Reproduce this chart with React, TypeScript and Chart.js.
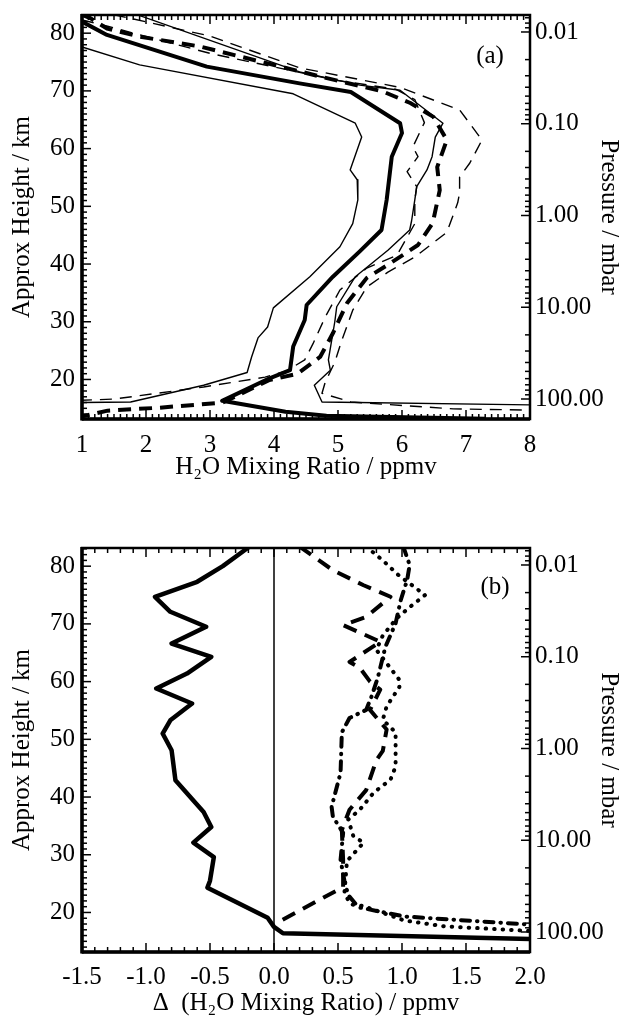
import React, { useEffect, useRef } from "react";
import { Chart, registerables } from "chart.js";

Chart.register(...registerables);

const FONT = "'Liberation Serif', 'Times New Roman', serif";

// ---------- shared vertical axis ----------
const KM_MIN = 13.15;
const KM_MAX = 83.15;
const P_TOP = 0.00653; // mbar at top of frame
const P_BOTTOM = 165.2; // mbar at bottom of frame
const kmTicks = [20, 30, 40, 50, 60, 70, 80];
const pressureTicks = [0.01, 0.1, 1, 10, 100];

// ---------- panel (a): [H2O ppmv, km] ----------
const aXTicks = [1, 2, 3, 4, 5, 6, 7, 8];
const aThickSolid: number[][] = [
  [1.0, 82.0], [1.39, 79.7], [2.95, 74.2], [4.4, 71.3], [5.2, 69.8], [5.97, 64.4],
  [6.0, 62.7], [5.84, 58.6], [5.76, 51.1], [5.68, 45.9], [5.34, 42.2], [4.92, 37.8],
  [4.51, 32.9], [4.48, 30.3], [4.3, 25.7], [4.25, 21.6], [3.93, 20.2], [3.19, 16.3],
  [4.18, 14.4], [4.82, 13.7], [7.3, 13.2],
];
const aThinSolidLeft: number[][] = [
  [1.0, 77.6], [1.9, 74.5], [4.3, 69.5], [5.27, 64.4], [5.37, 62.0], [5.19, 56.3],
  [5.3, 54.6], [5.31, 51.1], [5.23, 47.0], [5.03, 43.0], [4.56, 37.8], [3.99, 32.4],
  [3.9, 29.1], [3.75, 27.2], [3.65, 23.9], [3.58, 21.2], [2.9, 19.0], [1.76, 16.1],
  [1.0, 16.0],
];
const aThinSolidRight: number[][] = [
  [1.86, 83.2], [4.4, 73.3], [5.34, 71.0], [5.97, 70.1], [6.64, 64.4], [6.52, 62.0],
  [6.47, 58.6], [6.39, 56.3], [6.23, 53.4], [6.2, 51.1], [6.15, 47.5], [6.12, 45.9],
  [5.78, 42.4], [5.27, 37.8], [4.98, 32.6], [4.95, 30.0], [4.85, 23.4], [4.88, 21.6],
  [4.63, 19.0], [4.75, 16.1], [8.0, 15.6],
];
const aThickDashed: number[][] = [
  [1.0, 83.2], [1.13, 82.6], [1.39, 80.8], [1.9, 79.4], [2.84, 77.7], [3.78, 75.1],
  [4.72, 72.5], [5.7, 69.9], [6.13, 67.9], [6.49, 65.5], [6.7, 61.5], [6.55, 56.8],
  [6.59, 52.8], [6.48, 47.1], [6.25, 43.3], [5.84, 40.3], [5.45, 37.6], [5.14, 33.2],
  [4.92, 28.0], [4.72, 23.9], [4.37, 21.0], [3.93, 19.9], [3.2, 16.0], [2.2, 15.1],
  [1.4, 14.6], [1.0, 13.6],
];
const aThinDashedInner: number[][] = [
  [1.0, 82.3], [1.4, 81.2], [3.0, 76.5], [5.0, 71.8], [5.9, 70.3], [6.2, 68.5],
  [6.35, 64.5], [6.17, 60.3], [6.25, 58.6], [6.08, 56.0], [6.23, 53.4], [6.2, 51.1],
  [6.2, 47.0], [5.92, 41.5], [5.45, 39.3], [5.03, 35.5], [4.8, 30.8], [4.61, 26.2],
  [4.48, 23.4], [4.2, 21.5], [3.86, 20.4], [2.9, 18.7], [1.5, 16.6], [1.0, 16.4],
];
const aThinDashedOuter: number[][] = [
  [1.5, 83.2], [3.0, 79.5], [4.4, 74.0], [5.97, 70.6], [6.9, 66.7], [7.25, 61.5],
  [7.06, 57.5], [6.9, 55.1], [6.9, 52.3], [6.87, 50.6], [6.7, 45.5], [6.2, 41.2],
  [5.78, 38.6], [5.45, 36.0], [5.23, 32.0], [5.06, 26.8], [4.95, 23.0], [4.8, 19.5],
  [4.75, 17.6], [5.2, 16.1], [6.8, 14.9], [8.0, 14.7],
];

// ---------- panel (b): [delta ppmv, km] ----------
const bXTicks = [-1.5, -1.0, -0.5, 0.0, 0.5, 1.0, 1.5, 2.0];
const bZeroLine: number[][] = [[0, KM_MIN], [0, KM_MAX]];
const bThickSolid: number[][] = [
  [-0.19, 83.4], [-0.40, 80.0], [-0.60, 77.3], [-0.93, 74.7], [-0.81, 72.1], [-0.53, 69.5],
  [-0.80, 66.6], [-0.49, 64.3], [-0.68, 61.4], [-0.92, 58.8], [-0.64, 56.2], [-0.81, 53.3],
  [-0.87, 51.0], [-0.80, 48.1], [-0.77, 42.9], [-0.63, 39.4], [-0.55, 37.4], [-0.49, 34.8],
  [-0.63, 32.1], [-0.47, 29.6], [-0.50, 25.5], [-0.52, 24.3], [-0.05, 19.1], [0.0, 17.5],
  [0.07, 16.4], [2.0, 15.4],
];
const bDashed: number[][] = [
  [0.20, 83.4], [0.46, 79.3], [0.70, 76.7], [0.91, 74.7], [0.72, 71.2], [0.54, 69.8],
  [0.83, 66.9], [0.59, 63.4], [0.67, 62.4], [0.75, 60.0], [0.83, 58.6], [0.75, 55.1],
  [0.88, 51.7], [0.85, 48.0], [0.80, 46.4], [0.72, 41.2], [0.59, 37.8], [0.53, 34.3],
  [0.54, 29.1], [0.54, 24.4], [0.03, 18.3],
];
const bDotted: number[][] = [
  [0.72, 83.4], [0.85, 81.0], [0.97, 78.5], [1.18, 75.0], [1.06, 72.9], [0.96, 71.0],
  [0.85, 68.0], [0.80, 65.5], [0.88, 63.2], [0.98, 60.3], [0.98, 59.1], [0.88, 55.7],
  [0.85, 53.4], [0.95, 51.2], [0.95, 45.3], [0.91, 43.0], [0.78, 40.8], [0.67, 37.8],
  [0.58, 36.1], [0.62, 33.2], [0.70, 32.1], [0.57, 28.9], [0.55, 23.3], [0.60, 21.4],
  [0.70, 21.1], [1.02, 18.6], [1.33, 17.6], [2.0, 16.8],
];
const bDashDot: number[][] = [
  [1.01, 83.4], [1.06, 80.2], [1.04, 77.6], [0.99, 74.1], [0.95, 70.1], [0.87, 66.0],
  [0.81, 60.6], [0.76, 57.3], [0.72, 55.1], [0.59, 53.7], [0.53, 51.2], [0.52, 44.2],
  [0.45, 38.3], [0.46, 36.6], [0.54, 33.8], [0.52, 29.1], [0.55, 25.5], [0.58, 23.0],
  [0.66, 20.9], [1.02, 19.3], [2.0, 17.9],
];

function ds(pts: number[][], width: number, dash: number[] = [], cap: string = "butt") {
  return {
    data: pts.map(([x, y]) => ({ x, y })),
    borderColor: "#000",
    backgroundColor: "#000",
    borderWidth: width,
    borderDash: dash,
    borderCapStyle: cap,
    borderJoinStyle: "round",
    pointRadius: 0,
    pointHoverRadius: 0,
    fill: false,
    tension: 0,
  };
}

const axisDecor = {
  id: "axisDecor",
  afterDatasetsDraw(chart: any, _args: any, opts: any) {
    const { ctx, chartArea } = chart;
    const { left, right, top, bottom } = chartArea;
    const x = chart.scales.x;
    const y = chart.scales.y;
    const y2 = chart.scales.y2;
    ctx.save();
    ctx.strokeStyle = "#000";
    ctx.lineWidth = 1.5;
    const seg = (x1: number, y1: number, x2: number, y2_: number) => {
      ctx.beginPath();
      ctx.moveTo(x1, y1);
      ctx.lineTo(x2, y2_);
      ctx.stroke();
    };
    // left km ticks (inward)
    for (let k = Math.ceil(KM_MIN); k <= KM_MAX; k++) {
      const py = y.getPixelForValue(k);
      seg(left, py, left + (k % 10 === 0 ? 9 : 5), py);
    }
    // right pressure ticks (inward)
    for (let e = -3; e <= 2; e++) {
      for (let m = 1; m <= 9; m++) {
        const p = m * Math.pow(10, e);
        if (p < P_TOP || p > P_BOTTOM) continue;
        const py = y2.getPixelForValue(p);
        seg(right - (m === 1 ? 9 : 5), py, right, py);
      }
    }
    // top/bottom x ticks
    const n = Math.round((opts.max - opts.min) / opts.minor);
    for (let i = 0; i <= n; i++) {
      const v = opts.min + i * opts.minor;
      const px = x.getPixelForValue(v);
      const r = v / opts.major;
      const len = Math.abs(r - Math.round(r)) < 1e-6 ? 9 : 5;
      seg(px, top, px, top + len);
      seg(px, bottom, px, bottom - len);
    }
    // frame
    ctx.lineWidth = 2.5;
    ctx.strokeRect(left, top, right - left, bottom - top);
    ctx.lineWidth = 3.5;
    seg(left, top - 1, left, bottom + 1.5);
    seg(left, bottom, right, bottom);
    // panel label
    ctx.fillStyle = "#000";
    ctx.font = `25px ${FONT}`;
    ctx.textAlign = "center";
    ctx.textBaseline = "middle";
    ctx.fillText(opts.label, opts.labelX, opts.labelY);
    ctx.restore();
  },
};

function zeroPad(s: any) {
  s.paddingTop = 0;
  s.paddingBottom = 0;
  s.paddingLeft = 0;
  s.paddingRight = 0;
}

function buildConfig(p: any) {
  const tickFont = { family: FONT, size: 25 };
  const titleFont = { family: FONT, size: 25, lineHeight: 1 };
  return {
    type: "line",
    data: { datasets: p.datasets },
    plugins: [axisDecor],
    options: {
      responsive: false,
      animation: false,
      events: [],
      layout: { padding: { top: p.padTop, left: 0, right: 0, bottom: 0 } },
      plugins: {
        legend: { display: false },
        tooltip: { enabled: false },
        axisDecor: {
          min: p.xMin, max: p.xMax, minor: p.xMinor, major: p.xMajor,
          label: p.label, labelX: p.labelX, labelY: p.labelY,
        },
      },
      scales: {
        x: {
          type: "linear",
          position: "bottom",
          min: p.xMin,
          max: p.xMax,
          bounds: "data",
          grid: { display: false, drawTicks: false },
          border: { display: false },
          ticks: {
            font: tickFont, color: "#000", padding: p.xTickPad, autoSkip: false,
            maxRotation: 0, minRotation: 0,
            callback: (v: any) => p.xFmt(Number(v)),
          },
          afterBuildTicks: (s: any) => { s.ticks = p.xTicks.map((v: number) => ({ value: v })); },
          afterFit: (s: any) => { s.height = p.xAxisHeight; zeroPad(s); },
          title: {
            display: true, text: p.xTitle, font: titleFont, color: "#000",
            padding: { top: 0, bottom: p.xTitlePad },
          },
        },
        y: {
          type: "linear",
          position: "left",
          min: KM_MIN,
          max: KM_MAX,
          bounds: "data",
          grid: { display: false, drawTicks: false },
          border: { display: false },
          ticks: {
            font: tickFont, color: "#000", padding: 7, autoSkip: false,
            callback: (v: any) => String(Math.round(Number(v))),
          },
          afterBuildTicks: (s: any) => { s.ticks = kmTicks.map((v) => ({ value: v })); },
          afterFit: (s: any) => { s.width = 82; zeroPad(s); },
          title: {
            display: true, text: "Approx Height / km", font: titleFont, color: "#000",
            padding: { top: 10, bottom: 0 },
          },
        },
        y2: {
          type: "logarithmic",
          position: "right",
          reverse: true,
          min: P_TOP,
          max: P_BOTTOM,
          bounds: "data",
          grid: { display: false, drawTicks: false },
          border: { display: false },
          ticks: {
            font: tickFont, color: "#000", padding: 5, autoSkip: false,
            callback: (v: any) => Number(v).toFixed(2),
          },
          afterBuildTicks: (s: any) => { s.ticks = pressureTicks.map((v) => ({ value: v })); },
          afterFit: (s: any) => { s.width = 106; zeroPad(s); },
          title: {
            display: true, text: "Pressure / mbar", font: titleFont, color: "#000",
            padding: { top: 15, bottom: 0 },
          },
        },
      },
    },
  };
}

export default function App() {
  const topRef = useRef<HTMLCanvasElement>(null);
  const botRef = useRef<HTMLCanvasElement>(null);

  useEffect(() => {
    const cfgA = buildConfig({
      datasets: [
        ds(aThinSolidLeft, 1.4),
        ds(aThinSolidRight, 1.4),
        ds(aThinDashedInner, 1.4, [12, 8]),
        ds(aThinDashedOuter, 1.4, [12, 8]),
        ds(aThickDashed, 4, [13, 8]),
        ds(aThickSolid, 4),
      ],
      xMin: 1, xMax: 8, xMinor: 0.1, xMajor: 1, xTicks: aXTicks,
      xFmt: (v: number) => String(Math.round(v)),
      xTitle: "H\u2082O Mixing Ratio / ppmv",
      padTop: 15, xAxisHeight: 81, xTickPad: 11, xTitlePad: 20.5,
      label: "(a)", labelX: 490, labelY: 56,
    });
    const cfgB = buildConfig({
      datasets: [
        ds(bZeroLine, 1.5),
        ds(bDotted, 4, [0.5, 8], "round"),
        ds(bDashDot, 4, [9, 7, 0.5, 7], "round"),
        ds(bDashed, 4, [14, 9]),
        ds(bThickSolid, 4.5),
      ],
      xMin: -1.5, xMax: 2.0, xMinor: 0.1, xMajor: 0.5, xTicks: bXTicks,
      xFmt: (v: number) => v.toFixed(1),
      xTitle: "\u0394  (H\u2082O Mixing Ratio) / ppmv",
      padTop: 48, xAxisHeight: 64, xTickPad: 10, xTitlePad: 0.5,
      label: "(b)", labelX: 495, labelY: 87,
    });
    const c1 = new Chart(topRef.current as HTMLCanvasElement, cfgA as any);
    const c2 = new Chart(botRef.current as HTMLCanvasElement, cfgB as any);
    return () => {
      c1.destroy();
      c2.destroy();
    };
  }, []);

  return (
    <div style={{ position: "absolute", left: 0, top: 0, width: 636, height: 1016, background: "#fff" }}>
      <canvas ref={topRef} width={636} height={500} style={{ display: "block", width: 636, height: 500 }} />
      <canvas ref={botRef} width={636} height={516} style={{ display: "block", width: 636, height: 516 }} />
    </div>
  );
}
